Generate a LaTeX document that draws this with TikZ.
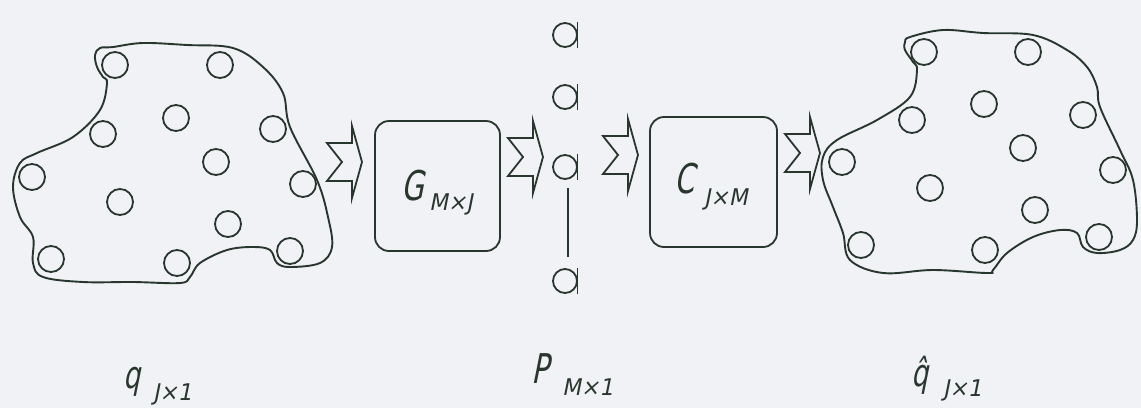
\documentclass[tikz,border=0pt]{standalone}
\usepackage{fontspec}
\newfontfamily\iso[FakeSlant=0.2,FakeStretch=0.7]{DejaVu Sans}
\newfontfamily\isosub[FakeSlant=0.2,FakeStretch=0.95]{DejaVu Sans}
\definecolor{ink}{RGB}{40,54,45}
\definecolor{paper}{RGB}{240,242,246}
\newcommand\flowarrow[2]{\draw[flow,shift={(#1,#2)}] (-35,-19) -- (-10,-19) -- (-10,-36) -- (0,0) -- (-10,36) -- (-10,19) -- (-35,19) -- (-20,0) -- cycle;}
\begin{document}
\begin{tikzpicture}[x=1pt,y=-1pt,
  src/.style={circle,draw=ink,minimum size=26pt,inner sep=0pt,line width=1.8pt},
  mic/.style={circle,draw=ink,minimum size=24pt,inner sep=0pt,line width=1.8pt},
  blk/.style={draw=ink,rounded corners=14pt,line width=1.8pt},
  lbl/.style={anchor=base west,inner sep=0pt,font=\iso\fontsize{41}{41}\selectfont,text=ink},
  sub/.style={anchor=base west,inner sep=0pt,font=\isosub\fontsize{23}{23}\selectfont,text=ink},
  blob/.style={draw=ink,line width=1.9pt},
  flow/.style={draw=ink,line width=1.8pt,line join=miter},
  wire/.style={draw=ink,line width=1.8pt}]
\fill[paper] (0,0) rectangle (1141,408);
\useasboundingbox (0,0) rectangle (1141,408);

% left source region
\draw[blob] plot[smooth cycle, tension=0.6] coordinates {
 (113,47) (143,43) (187,45) (233,48) (263,67) (283,93) (290,127) (317,180) (328,217) (332,247)
 (320,263) (290,267) (277,263) (270,250) (253,247) (227,250) (200,263) (190,277) (180,283)
 (133,282) (83,282) (43,277) (33,263) (33,237) (20,217) (13,187) (20,163) (37,153) (73,137)
 (100,110) (107,83) (103,77) (97,67) (95,55) (100,48)};
\foreach \n/\x/\y in {a1/115/65, a2/220/65, a3/176/118, a4/103/134, a5/273/129, a6/216/162, a7/32/177,
  a8/303/184, a9/120/202, a10/228/224, a11/51/259, a12/177/263, a13/290/251}
  \node[src] (\n) at (\x,\y) {};

% right reconstructed region
\draw[blob] plot[smooth cycle, tension=0.6] coordinates {
 (910,37) (943,30) (983,33) (1033,35) (1067,50) (1087,67) (1097,87) (1100,107) (1120,150)
 (1133,180) (1137,220) (1133,240) (1120,250) (1097,253) (1083,247) (1077,233) (1060,230)
 (1033,237) (1007,253) (993,270) (987,273) (933,270) (883,273) (850,260) (843,233) (833,207)
 (823,180) (823,157) (837,140) (877,120) (910,97) (917,70) (913,62) (905,50) (905,42)};
\foreach \n/\x/\y in {b1/924/52, b2/1028/52, b3/984/104, b4/912/120, b5/1083/115, b6/1023/148,
  b7/842/162, b8/1113/170, b9/930/188, b10/1035/210, b11/861/245, b12/985/250, b13/1099/237}
  \node[src] (\n) at (\x,\y) {};

% transfer blocks
\node[blk,minimum width=125pt,minimum height=130pt] (G) at (437.5,186) {};
\node[blk,minimum width=127pt,minimum height=130pt] (C) at (713.5,182) {};
\node[lbl] (Gt) at (401,200) {G};
\node[sub] (Gs) at (429,210) {M×J};
\node[lbl] (Ct) at (674,193) {C};
\node[sub] (Cs) at (704,205) {J×M};

% microphones
\foreach \n/\y in {m1/35, m2/97, m3/167, m4/281}{
  \node[mic] (\n) at (565,\y) {};
  \draw[wire] (\n.center) ++(12.5,-13) -- ++(0,26);
}
\draw[wire] ([shift={(3,8)}]m3.south) -- ([shift={(3,-11)}]m4.north);

% flow arrows
\flowarrow{362}{162}
\flowarrow{543}{157}
\flowarrow{638}{155}
\flowarrow{820}{153}

% labels
\node[lbl,font=\iso\fontsize{38}{38}\selectfont] (ql) at (123,388) {q};
\node[sub] (qs) at (153,400) {J×1};
\node[lbl] (pl) at (531,383) {P};
\node[sub] (ps) at (562,395) {M×1};
\node[lbl,font=\iso\fontsize{38}{38}\selectfont] (hl) at (911,386) {\^{q}};
\node[sub] (hs) at (943,396) {J×1};
\end{tikzpicture}
\end{document}
